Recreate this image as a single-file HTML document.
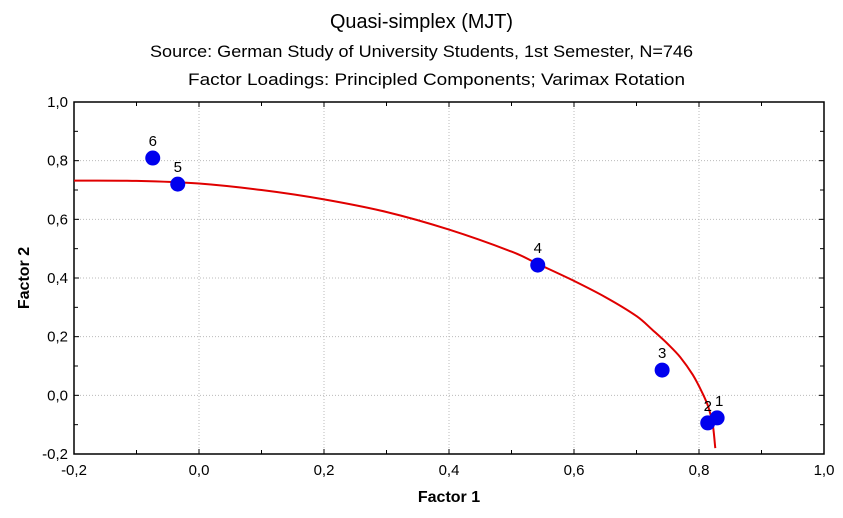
<!DOCTYPE html>
<html><head><meta charset="utf-8"><style>
body{margin:0;background:#fff;}
svg{display:block;font-family:"Liberation Sans",Arial,sans-serif;}
</style></head><body>
<svg id="chart" width="843" height="518" viewBox="0 0 843 518">
<text x="421.5" y="28" text-anchor="middle" font-size="20" textLength="183" lengthAdjust="spacingAndGlyphs">Quasi-simplex (MJT)</text>
<text x="421.5" y="57" text-anchor="middle" font-size="17" textLength="543" lengthAdjust="spacingAndGlyphs">Source: German Study of University Students, 1st Semester, N=746</text>
<text x="436.5" y="85" text-anchor="middle" font-size="17" textLength="497" lengthAdjust="spacingAndGlyphs">Factor Loadings: Principled Components; Varimax Rotation</text>
<g id="grid"></g>
<g id="axes"></g>
<g id="series"></g>
<text x="449" y="502" text-anchor="middle" font-size="16" font-weight="bold">Factor 1</text>
<text transform="translate(29,278) rotate(-90)" text-anchor="middle" font-size="16" font-weight="bold">Factor 2</text>
</svg>
<script>
const pointLabels = ["1","2","3","4","5","6"];
const factor1 = [0.829, 0.814, 0.741, 0.542, -0.034, -0.074];
const factor2 = [-0.077, -0.094, 0.086, 0.444, 0.720, 0.809];
const curveX = [-0.2, -0.1, 0.0, 0.1, 0.2, 0.3, 0.4, 0.5, 0.54, 0.6, 0.65, 0.7, 0.726, 0.75, 0.77, 0.79, 0.805, 0.815, 0.822, 0.826];
const curveY = [0.732, 0.731, 0.722, 0.700, 0.668, 0.625, 0.565, 0.49, 0.45, 0.39, 0.335, 0.27, 0.222, 0.175, 0.13, 0.07, 0.01, -0.04, -0.10, -0.18];
const xTicks = [-0.2, 0.0, 0.2, 0.4, 0.6, 0.8, 1.0];
const yTicks = [-0.2, 0.0, 0.2, 0.4, 0.6, 0.8, 1.0];
const xTickLabels = ["-0,2","0,0","0,2","0,4","0,6","0,8","1,0"];
const yTickLabels = ["-0,2","0,0","0,2","0,4","0,6","0,8","1,0"];

const L=74,R=824,T=102,B=454, xmin=-0.2,xmax=1.0,ymin=-0.2,ymax=1.0;
const sx=v=>L+(v-xmin)/(xmax-xmin)*(R-L);
const sy=v=>B-(v-ymin)/(ymax-ymin)*(B-T);
const NS="http://www.w3.org/2000/svg";
function mk(tag,attrs,parent){const e=document.createElementNS(NS,tag);for(const k in attrs)e.setAttribute(k,attrs[k]);parent.appendChild(e);return e;}
const grid=document.getElementById('grid'),axes=document.getElementById('axes'),series=document.getElementById('series');

xTicks.forEach((v,i)=>{
  if(i>0&&i<xTicks.length-1){const g=mk('line',{x1:sx(v),x2:sx(v),y1:T,y2:B,stroke:'#bbb','stroke-dasharray':'1,2'},grid);
  
  }
  const t=mk('text',{x:sx(v),y:B+21,'text-anchor':'middle','font-size':'15'},axes);t.textContent=xTickLabels[i];
  
  
});
yTicks.forEach((v,i)=>{
  if(i>0&&i<yTicks.length-1){const g=mk('line',{x1:L,x2:R,y1:sy(v),y2:sy(v),stroke:'#bbb','stroke-dasharray':'1,2'},grid);
  
  }
  const t=mk('text',{x:L-6,y:sy(v)+5,'text-anchor':'end','font-size':'15'},axes);t.textContent=yTickLabels[i];
  
  
});
for(let k=-2;k<=10;k++){
  const v=k/10, big=(k%2===0)?5:4;
  mk('line',{x1:sx(v),x2:sx(v),y1:B,y2:B-big,stroke:'#000'},axes);
  mk('line',{x1:sx(v),x2:sx(v),y1:T,y2:T+big,stroke:'#000'},axes);
  mk('line',{x1:L,x2:L+big,y1:sy(v),y2:sy(v),stroke:'#000'},axes);
  mk('line',{x1:R,x2:R-big,y1:sy(v),y2:sy(v),stroke:'#000'},axes);
}
const frame=mk('rect',{x:L,y:T,width:R-L,height:B-T,fill:'none',stroke:'#000','stroke-width':'1.5'},axes);



const P=curveX.map((x,i)=>[sx(x),sy(curveY[i])]);
let d='M'+P[0][0].toFixed(1)+','+P[0][1].toFixed(1);
for(let i=0;i<P.length-1;i++){
  const p0=P[i-1]||P[i],p1=P[i],p2=P[i+1],p3=P[i+2]||P[i+1];
  const c1=[p1[0]+(p2[0]-p0[0])/6,p1[1]+(p2[1]-p0[1])/6];
  const c2=[p2[0]-(p3[0]-p1[0])/6,p2[1]-(p3[1]-p1[1])/6];
  d+=' C'+c1.map(n=>n.toFixed(1)).join(',')+' '+c2.map(n=>n.toFixed(1)).join(',')+' '+p2.map(n=>n.toFixed(1)).join(',');
}
const curve=mk('path',{d:d,fill:'none',stroke:'#e00000','stroke-width':'2'},series);



factor1.forEach((x,i)=>{
  const c=mk('circle',{cx:sx(x),cy:sy(factor2[i]),r:7.5,fill:'#0000ee'},series);
  
  
  const t=mk('text',{x:sx(x)+(i===0?2:0),y:sy(factor2[i])-12,'text-anchor':'middle','font-size':'15'},series);
  t.textContent=pointLabels[i];
  
  
});
</script>
</body></html>
